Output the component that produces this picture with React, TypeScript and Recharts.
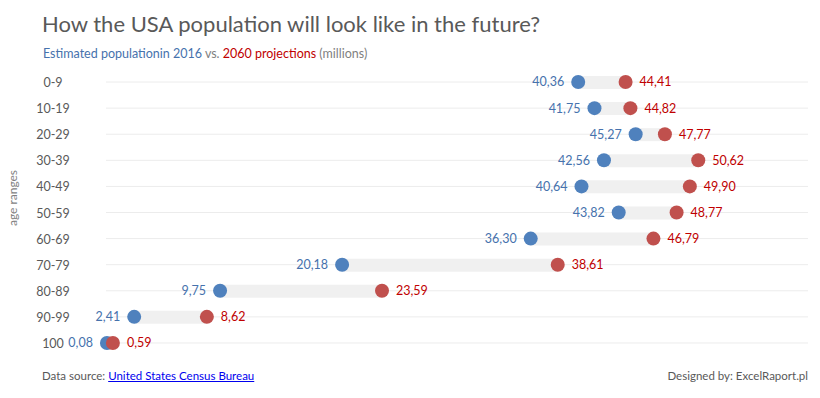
import React from 'react';
import {
  ComposedChart,
  Bar,
  Line,
  XAxis,
  YAxis,
  CartesianGrid,
  LabelList,
} from 'recharts';

const ageRanges = ['0-9', '10-19', '20-29', '30-39', '40-49', '50-59', '60-69', '70-79', '80-89', '90-99', '100'];
const pop2016 = [40.36, 41.75, 45.27, 42.56, 40.64, 43.82, 36.3, 20.18, 9.75, 2.41, 0.08];
const pop2060 = [44.41, 44.82, 47.77, 50.62, 49.9, 48.77, 46.79, 38.61, 23.59, 8.62, 0.59];

const BLUE = '#4f81bd';
const RED = '#c0504d';
const BLUE_TEXT = '#4672ad';
const RED_TEXT = '#c00000';
const FONT = 'Lato, "Open Sans", sans-serif';

const data = ageRanges.map((age, i) => ({
  age,
  y2016: pop2016[i],
  y2060: pop2060[i],
  range: [pop2016[i], pop2060[i]],
}));

const fmt = (v: any) => Number(v).toFixed(2).replace('.', ',');

// grid lines only through the middle of each row
const rowLines = (args: any) => {
  const off = args.offset || {};
  const n = ageRanges.length;
  return ageRanges.map((_, i) => off.top + ((i + 0.5) * off.height) / n);
};

const AgeTick = (props: any) => {
  const { y, payload } = props;
  return (
    <text x={53} y={y} dy={5} textAnchor="middle" fill="#595959" fontSize={12.5} fontFamily={FONT}>
      {payload.value}
    </text>
  );
};

export default function App() {
  return (
    <div style={{ position: 'absolute', left: 0, top: 0, width: 820, height: 398, background: '#fff', fontFamily: FONT }}>
      <div style={{ position: 'absolute', left: 42, top: 10, fontSize: 22, color: '#595959', whiteSpace: 'nowrap' }}>
        How the USA population will look like in the future?
      </div>
      <div style={{ position: 'absolute', left: 43, top: 46, fontSize: 12.5, color: '#7f7f7f', whiteSpace: 'nowrap' }}>
        <span style={{ color: BLUE_TEXT }}>Estimated populationin 2016</span> vs.{' '}
        <span style={{ color: RED_TEXT }}>2060 projections</span> (millions)
      </div>
      <div
        style={{
          position: 'absolute',
          left: 12,
          top: 198,
          transform: 'translate(-50%, -50%) rotate(-90deg)',
          fontSize: 12,
          color: '#7f7f7f',
          whiteSpace: 'nowrap',
        }}
      >
        age ranges
      </div>
      <ComposedChart
        width={820}
        height={398}
        data={data}
        layout="vertical"
        margin={{ top: 69, right: 12, bottom: 42, left: 0 }}
      >
        <CartesianGrid horizontal={true} vertical={false} stroke="#ececec" horizontalCoordinatesGenerator={rowLines} />
        <XAxis type="number" domain={[0, 60]} hide />
        <YAxis
          type="category"
          dataKey="age"
          width={106}
          axisLine={false}
          tickLine={false}
          tick={<AgeTick />}
        />
        <Bar dataKey="range" fill="#f0f0f0" barSize={13} isAnimationActive={false} />
        <Line
          dataKey="y2016"
          stroke="none"
          dot={{ r: 7, fill: BLUE, stroke: 'none' }}
          activeDot={false}
          isAnimationActive={false}
        >
          <LabelList dataKey="y2016" position="left" offset={14} formatter={fmt} fill={BLUE_TEXT} fontSize={12.5} fontFamily={FONT} />
        </Line>
        <Line
          dataKey="y2060"
          stroke="none"
          dot={{ r: 7, fill: RED, stroke: 'none' }}
          activeDot={false}
          isAnimationActive={false}
        >
          <LabelList dataKey="y2060" position="right" offset={14} formatter={fmt} fill={RED_TEXT} fontSize={12.5} fontFamily={FONT} />
        </Line>
      </ComposedChart>
      <div style={{ position: 'absolute', left: 42, top: 369, fontSize: 11.5, color: '#595959', whiteSpace: 'nowrap' }}>
        Data source:{' '}
        <a href="#" style={{ color: '#0000ee', textDecoration: 'underline' }}>
          United States Census Bureau
        </a>
      </div>
      <div style={{ position: 'absolute', right: 12, top: 369, fontSize: 11.5, color: '#595959', whiteSpace: 'nowrap' }}>
        Designed by: ExcelRaport.pl
      </div>
    </div>
  );
}
